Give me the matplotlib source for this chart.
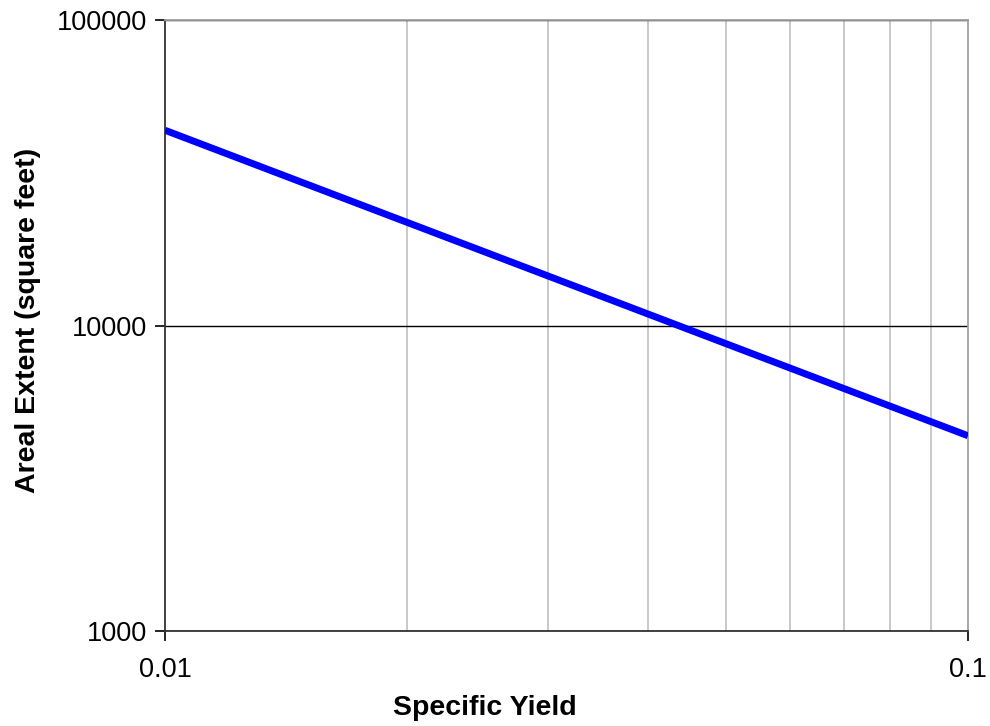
import matplotlib.pyplot as plt
from matplotlib.ticker import FixedLocator, NullFormatter

plt.rcParams['font.family'] = ['Liberation Sans', 'DejaVu Sans']

# specific yield vs areal extent (one acre-foot spread over the aquifer)
specific_yield = [0.01, 0.02, 0.03, 0.04, 0.05, 0.06, 0.07, 0.08, 0.09, 0.1]
areal_extent = [43560, 21780, 14520, 10890, 8712, 7260, 6223, 5445, 4840, 4356]

x_ticks = [0.01, 0.1]
x_tick_labels = ["0.01", "0.1"]
y_ticks = [1000, 10000, 100000]
y_tick_labels = ["1000", "10000", "100000"]

fig = plt.figure(figsize=(9.9, 7.26), dpi=100)
ax = fig.add_axes([165 / 990, 1 - 631 / 726, (968 - 165) / 990, (631 - 20) / 726])

ax.plot(specific_yield, areal_extent, color='#0000ff', lw=5, solid_capstyle='butt', zorder=3)

ax.set_xscale('log')
ax.set_yscale('log')
ax.set_xlim(0.01, 0.1)
ax.set_ylim(1000, 100000)

ax.xaxis.set_major_locator(FixedLocator(x_ticks))
ax.set_xticklabels(x_tick_labels)
ax.xaxis.set_minor_locator(FixedLocator([0.02, 0.03, 0.04, 0.05, 0.06, 0.07, 0.08, 0.09]))
ax.xaxis.set_minor_formatter(NullFormatter())
ax.yaxis.set_major_locator(FixedLocator(y_ticks))
ax.set_yticklabels(y_tick_labels)
ax.yaxis.set_minor_locator(FixedLocator([]))

ax.grid(axis='x', which='minor', color='#c0c0c0', lw=1.2)
ax.grid(axis='y', which='major', color='black', lw=1)

ax.tick_params(axis='both', which='major', direction='out', length=7, width=1.2,
               labelsize=19.5, pad=6, color='black')
ax.tick_params(axis='x', which='minor', length=0)
ax.tick_params(axis='x', which='major', pad=12)

for side in ['left', 'bottom']:
    ax.spines[side].set_color('#333333')
    ax.spines[side].set_linewidth(1.3)
for side in ['top', 'right']:
    ax.spines[side].set_color('#a0a0a0')
    ax.spines[side].set_linewidth(1.3)

# axis titles sit a little off-centre, so place them on the figure directly
fig.text(485 / 990, 1 - 708 / 726, "Specific Yield", fontsize=20.5, fontweight='bold',
         ha='center', va='center')
fig.text(28 / 990, 1 - 320 / 726, "Areal Extent (square feet)", fontsize=20.5,
         fontweight='bold', rotation=90, ha='center', va='center')

fig.savefig('out.png', dpi=100)
